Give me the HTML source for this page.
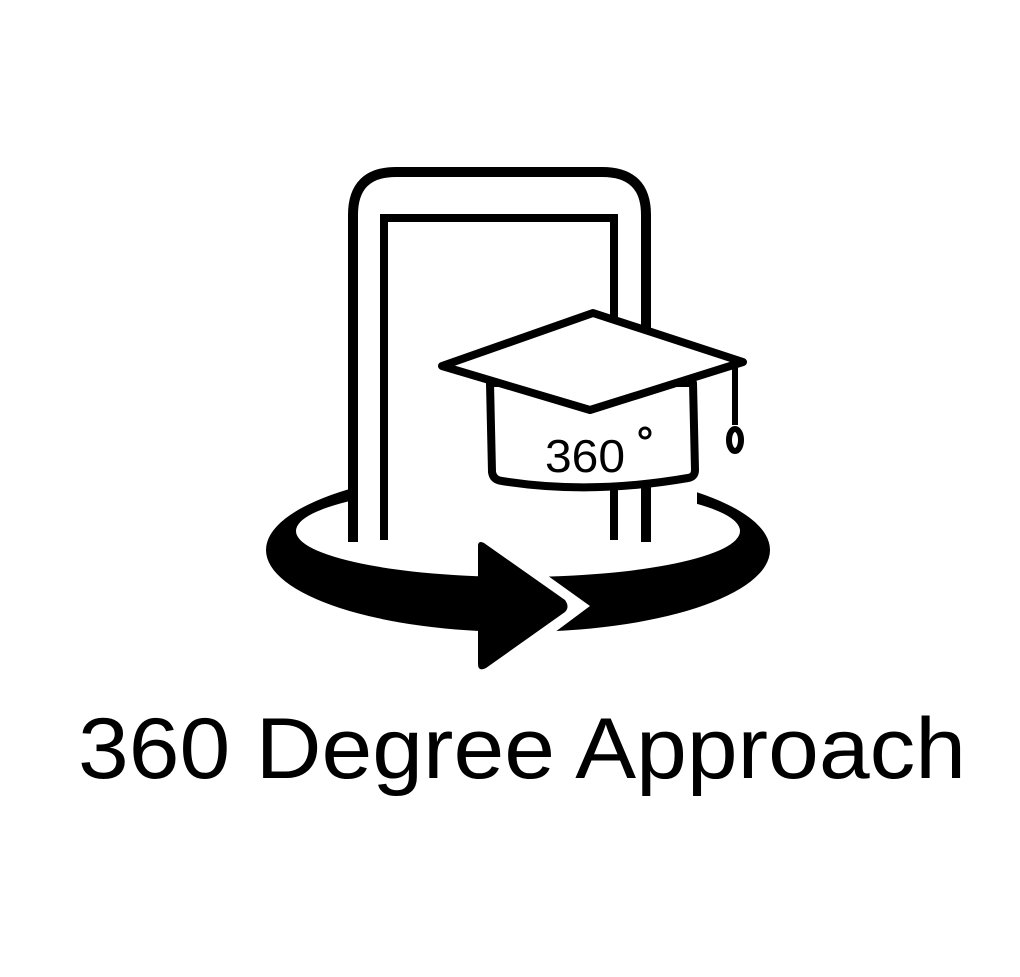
<!DOCTYPE html>
<html><head><meta charset="utf-8"><style>
html,body{margin:0;padding:0;background:#fff;}
svg{display:block;}
</style></head><body>
<svg width="1020" height="977" viewBox="0 0 1020 977">
  <defs>
    <mask id="ringMask">
      <rect width="1020" height="977" fill="#fff"/>
      <rect x="349" y="440" width="348" height="78" fill="#000"/>
      <polygon points="484,530 590,606 484,685" fill="#000"/>
    </mask>
  </defs>
  <rect width="1020" height="977" fill="#fff"/>
  <path fill="#000" fill-rule="evenodd" mask="url(#ringMask)"
    d="M266,550 A252,82 0 1,0 770,550 A252,82 0 1,0 266,550 Z M296,531 A222,46 0 1,0 740,531 A222,46 0 1,0 296,531 Z"/>
  <path d="M478,546 Q478,540 484,543 L565,600 Q570,607 565,612 L486,668 Q478,672 478,664 Z" fill="#000"/>
  <!-- phone -->
  <path d="M353,542 L353,215 Q353,172 396,172 L602,172 Q646,172 646,215 L646,330" fill="none" stroke="#000" stroke-width="10"/>
  <line x1="646" y1="480" x2="646" y2="542" stroke="#000" stroke-width="10"/>
  <path d="M384,540 L384,218 L614,218 L614,320" fill="none" stroke="#000" stroke-width="8"/>
  <line x1="614" y1="480" x2="614" y2="540" stroke="#000" stroke-width="8"/>
  <!-- cap base -->
  <path d="M490,383 L492,472 Q493,480 502,481 Q590,495 688,478 Q695,477 695,470 L693,383 Z" fill="#fff" stroke="#000" stroke-width="8" stroke-linejoin="round"/>
  <polygon points="442,366 593,313 743,362 590,410" fill="#fff" stroke="#000" stroke-width="8" stroke-linejoin="round"/>
  <line x1="735" y1="366" x2="735" y2="425" stroke="#000" stroke-width="6"/>
  <ellipse cx="735" cy="440" rx="6" ry="11" fill="#fff" stroke="#000" stroke-width="6"/>
  <text x="545" y="472" font-family="Liberation Sans, sans-serif" font-size="46" fill="#000" textLength="80" lengthAdjust="spacingAndGlyphs">360</text>
  <circle cx="645" cy="433" r="5" fill="none" stroke="#000" stroke-width="3"/>
  <text x="78" y="778" font-family="Liberation Sans, sans-serif" font-size="86" fill="#000" textLength="888" lengthAdjust="spacingAndGlyphs">360 Degree Approach</text>
</svg>
</body></html>
